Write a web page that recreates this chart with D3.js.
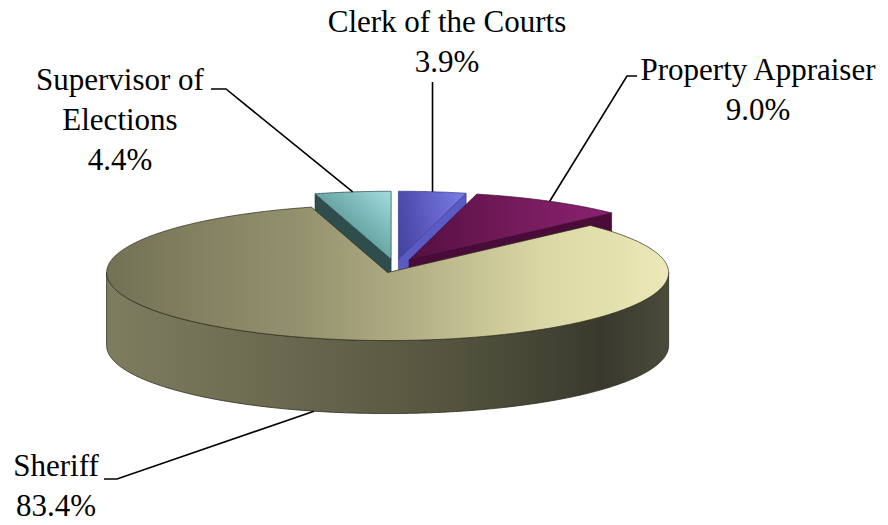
<!DOCTYPE html>
<html>
<head>
<meta charset="utf-8">
<script src="https://cdn.jsdelivr.net/npm/d3@7"></script>
<style>
    body { margin: 0; background: #fff; }
    svg { display: block; }
</style>
</head>
<body>
<script>
(function(){

    //chart data
    var categories = ["Clerk of the Courts", "Property Appraiser", "Sheriff", "Supervisor of Elections"];
    var shares = [3.9, 9.0, 83.4, 4.4];
    var labelLines = [["Clerk of the Courts"], ["Property Appraiser"], ["Sheriff"], ["Supervisor of", "Elections"]];

    //frame and pie geometry
    var width = 888,
        height = 525,
        cx = 395,
        cy = 266,
        rx = 281,
        ry = 68,
        depth = 73,
        explode = 0.1,
        fontSize = 31,
        lineGap = 40,
        serif = "'Liberation Serif', 'Times New Roman', Times, 'DejaVu Serif', serif";

    //slice styles, same order as categories
    var sliceStyle = [
        {top: "clerkTop", face: "#5a5ac4", side: "#3c3c90", edge: "#3a3a8a"},
        {top: "propTop", face: "#4a0b38", side: "#3a0830", edge: "#3d0830"},
        {top: "sheriffTop", face: "#55553f", side: "url(#sheriffSide)", edge: "#2a2a1e"},
        {top: "supTop", face: "#2f4d4d", side: "#2a4444", edge: "#2a4646"}
    ];

    //label placement: text anchor point (centre of first line) and leader bend
    var labelLayout = [
        {x: 447, y: 32, bend: null},
        {x: 758, y: 80, bend: [[637, 76], [627, 76]]},
        {x: 56, y: 476, bend: [[104, 479], [117, 479]]},
        {x: 120, y: 90, bend: [[211, 89], [226, 89]]}
    ];

    var svg = d3.select("body")
        .append("svg")
        .attr("width", width)
        .attr("height", height);

    var defs = svg.append("defs");

    function addGradient(id, coords, stops, userSpace){
        var g = defs.append("linearGradient")
            .attr("id", id)
            .attr("x1", coords[0]).attr("y1", coords[1])
            .attr("x2", coords[2]).attr("y2", coords[3]);
        if (userSpace) g.attr("gradientUnits", "userSpaceOnUse");
        stops.forEach(function(s){
            g.append("stop").attr("offset", s[0]).attr("stop-color", s[1]);
        });
    }

    addGradient("sheriffTop", [105, 0, 670, 0], [[0, "#727154"], [0.35, "#94926e"], [0.55, "#b3b086"], [0.78, "#dcd8a5"], [1, "#ece8b7"]], true);
    addGradient("sheriffSide", [105, 0, 670, 0], [[0, "#7e7d60"], [0.3, "#6b6a50"], [0.6, "#55553f"], [0.88, "#393a2d"], [1, "#4b4b3a"]], true);
    addGradient("supTop", [0, 1, 1, 0], [[0, "#3e7070"], [0.5, "#6aa7a7"], [1, "#a4dcdc"]], false);
    addGradient("clerkTop", [0, 0.6, 1, 0.4], [[0, "#4545a4"], [1, "#7a7ae6"]], false);
    addGradient("propTop", [0, 0.5, 1, 0.5], [[0, "#550f41"], [0.5, "#741a5a"], [1, "#8a2271"]], false);

    //pie layout in original order, clockwise from 12 o'clock
    var pie = d3.pie()
        .sort(null)
        .value(function(d){ return d; })
        .startAngle(0)
        .endAngle(2 * Math.PI);

    var arcs = pie(shares);
    arcs.forEach(function(a, i){
        a.index = i;
        a.mid = (a.startAngle + a.endAngle) / 2;
        a.ox = cx + explode * rx * Math.sin(a.mid);
        a.oy = cy - explode * ry * Math.cos(a.mid);
    });

    //project a rim point of a slice (z = 0 top, z = 1 bottom)
    function pt(a, t, z){
        return [a.ox + rx * Math.sin(t), a.oy - ry * Math.cos(t) + z * depth];
    }

    function rim(a, t0, t1, z){
        var n = Math.max(2, Math.ceil(Math.abs(t1 - t0) / 0.01)),
            pts = [];
        for (var k = 0; k <= n; k++){
            pts.push(pt(a, t0 + (t1 - t0) * k / n, z));
        }
        return pts;
    }

    var line = d3.line();

    function closed(pts){ return line(pts) + "Z"; }

    //draw far slices first
    var order = arcs.slice().sort(function(a, b){ return a.oy - b.oy; });

    var pieG = svg.append("g").attr("class", "pie");

    order.forEach(function(a){
        var st = sliceStyle[a.index],
            g = pieG.append("g").attr("class", "slice");

        //radial faces turned toward the viewer
        var faces = [];
        if (Math.sin(a.startAngle) < -1e-6) faces.push(a.startAngle);
        if (Math.sin(a.endAngle) > 1e-6) faces.push(a.endAngle);
        faces.forEach(function(t){
            g.append("path")
                .attr("d", closed([[a.ox, a.oy], pt(a, t, 0), pt(a, t, 1), [a.ox, a.oy + depth]]))
                .style("fill", st.face)
                .style("stroke", st.edge)
                .style("stroke-width", 0.6);
        });

        //outer curved side, front half only
        var t0 = Math.max(a.startAngle, Math.PI / 2),
            t1 = Math.min(a.endAngle, 3 * Math.PI / 2);
        if (t1 > t0){
            var pts = rim(a, t0, t1, 0).concat(rim(a, t1, t0, 1));
            g.append("path")
                .attr("d", closed(pts))
                .style("fill", st.side)
                .style("stroke", st.edge)
                .style("stroke-width", 0.8);
        }

        //top face
        g.append("path")
            .attr("d", closed([[a.ox, a.oy]].concat(rim(a, a.startAngle, a.endAngle, 0))))
            .style("fill", "url(#" + st.top + ")")
            .style("stroke", st.edge)
            .style("stroke-width", 0.7);
    });

    //labels and leader lines
    var fmt = d3.format(".1f");
    var labelG = svg.append("g").attr("class", "labels");

    arcs.forEach(function(a, i){
        var lay = labelLayout[i],
            lines = labelLines[i].concat([fmt(shares[i]) + "%"]);

        var text = labelG.append("text")
            .attr("text-anchor", "middle")
            .attr("font-family", serif)
            .attr("font-size", fontSize)
            .attr("fill", "#000");
        lines.forEach(function(s, k){
            text.append("tspan")
                .attr("x", lay.x)
                .attr("y", lay.y + k * lineGap)
                .text(s);
        });

        //leader target: middle of the outer edge (bottom edge for the front slice)
        var front = Math.cos(a.mid) < 0,
            end = pt(a, a.mid, front ? 1 : 0),
            pts;
        if (lay.bend){
            pts = lay.bend.concat([end]);
        } else {
            pts = [[end[0], lay.y + (lines.length - 1) * lineGap + 10], end];
        }
        labelG.append("path")
            .attr("d", line(pts))
            .style("fill", "none")
            .style("stroke", "#000")
            .style("stroke-width", 1.6);
    });

})();
</script>
</body>
</html>
